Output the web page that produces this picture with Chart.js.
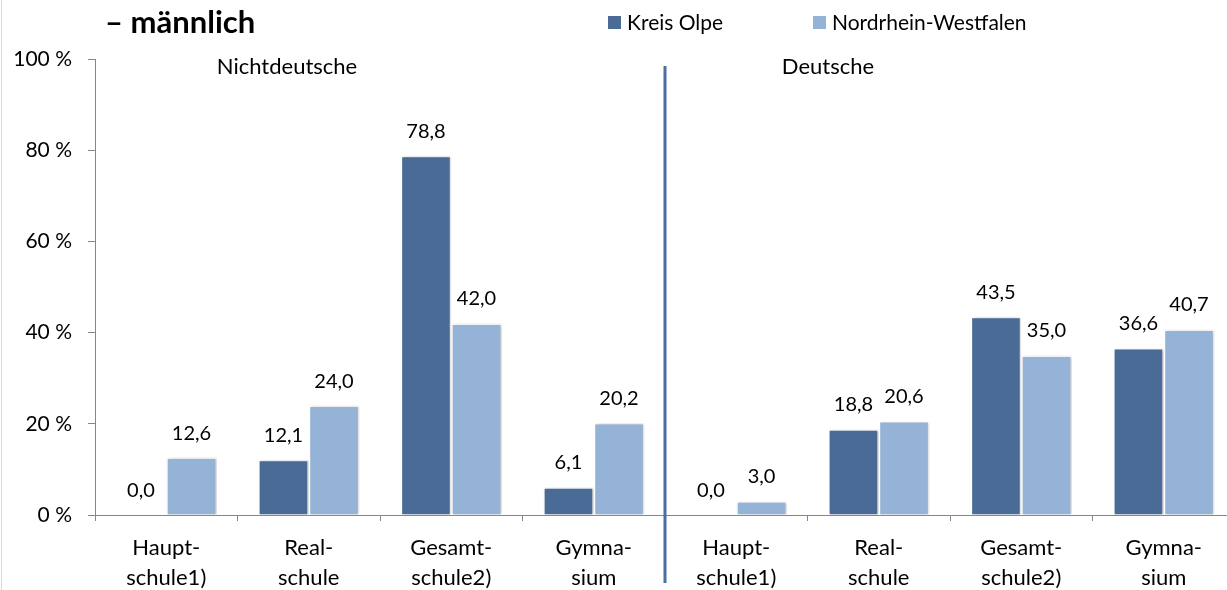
<!DOCTYPE html>
<html>
<head>
<meta charset="utf-8">
<script src="https://cdn.jsdelivr.net/npm/chart.js@4/dist/chart.umd.min.js"></script>
<style>
  html, body { margin: 0; padding: 0; background: #fff; overflow: hidden; }
  #wrap { width: 1240px; height: 590px; }
</style>
</head>
<body>
<div id="wrap"><canvas id="chart" width="1240" height="590"></canvas></div>
<script>
const FONT = "Lato, 'Open Sans', sans-serif";

const categories = [
  ["Haupt-", "schule1)"], ["Real-", "schule"], ["Gesamt-", "schule2)"], ["Gymna-", "sium"],
  ["Haupt-", "schule1)"], ["Real-", "schule"], ["Gesamt-", "schule2)"], ["Gymna-", "sium"]
];
const kreisOlpe = [0.0, 12.1, 78.8, 6.1, 0.0, 18.8, 43.5, 36.6];
const nrw = [12.6, 24.0, 42.0, 20.2, 3.0, 20.6, 35.0, 40.7];
const yTicks = [0, 20, 40, 60, 80, 100];

const DARK = "#4a6b96";
const LIGHT = "#95b3d7";

function fmt(v) {
  return v.toFixed(1).replace(".", ",");
}

// bars get a faint shadow like the original
const shadowPlugin = {
  id: "shadow",
  beforeDatasetsDraw(chart) {
    const ctx = chart.ctx;
    ctx.save();
    ctx.shadowColor = "rgba(0,0,0,0.22)";
    ctx.shadowBlur = 3;
    ctx.shadowOffsetX = 1.5;
    ctx.shadowOffsetY = 0;
  },
  afterDatasetsDraw(chart) {
    chart.ctx.restore();
  }
};

const extrasPlugin = {
  id: "extras",
  afterDraw(chart) {
    const ctx = chart.ctx;
    const area = chart.chartArea;
    const x = chart.scales.x;

    // left frame line
    ctx.save();
    ctx.strokeStyle = "#d9d9d9";
    ctx.lineWidth = 1;
    ctx.beginPath();
    ctx.moveTo(1.5, 0);
    ctx.lineTo(1.5, 590);
    ctx.stroke();

    // value labels
    ctx.fillStyle = "#000";
    ctx.font = "20px " + FONT;
    ctx.textAlign = "center";
    ctx.textBaseline = "alphabetic";
    chart.data.datasets.forEach((ds, i) => {
      const meta = chart.getDatasetMeta(i);
      meta.data.forEach((bar, j) => {
        ctx.fillText(fmt(ds.data[j]), bar.x, bar.y - 18);
      });
    });

    // separator between the two groups
    const sx = (x.getPixelForValue(3) + x.getPixelForValue(4)) / 2;
    ctx.strokeStyle = "#4a6fa0";
    ctx.lineWidth = 3;
    ctx.beginPath();
    ctx.moveTo(sx, area.top + 7);
    ctx.lineTo(sx, area.bottom + 68);
    ctx.stroke();

    // group captions
    ctx.font = "22px " + FONT;
    ctx.textBaseline = "middle";
    ctx.fillText("Nichtdeutsche", 287, 67);
    ctx.fillText("Deutsche", 828, 67);

    // title
    ctx.font = "bold 31px " + FONT;
    ctx.textAlign = "left";
    ctx.fillText("– männlich", 105, 23);

    // legend
    ctx.font = "21px " + FONT;
    const legendX = [608, 813];
    chart.data.datasets.forEach((ds, i) => {
      ctx.fillStyle = ds.backgroundColor;
      ctx.fillRect(legendX[i], 16, 13, 13);
      ctx.fillStyle = "#000";
      ctx.fillText(ds.label, legendX[i] + 19, 23);
    });
    ctx.restore();
  }
};

new Chart(document.getElementById("chart"), {
  type: "bar",
  data: {
    labels: categories,
    datasets: [
      {
        label: "Kreis Olpe",
        data: kreisOlpe,
        backgroundColor: DARK,
        borderColor: "#ffffff",
        borderWidth: 1.5,
        categoryPercentage: 0.71,
        barPercentage: 1.0
      },
      {
        label: "Nordrhein-Westfalen",
        data: nrw,
        backgroundColor: LIGHT,
        borderColor: "#ffffff",
        borderWidth: 1.5,
        categoryPercentage: 0.71,
        barPercentage: 1.0
      }
    ]
  },
  options: {
    responsive: false,
    animation: false,
    devicePixelRatio: 1,
    layout: { padding: { top: 59, right: 5, left: 0, bottom: 0 } },
    plugins: {
      legend: { display: false },
      tooltip: { enabled: false },
      title: { display: false }
    },
    scales: {
      x: {
        grid: {
          offset: true,
          drawOnChartArea: false,
          tickLength: 6,
          tickColor: "#868686"
        },
        border: { color: "#868686", width: 1 },
        ticks: {
          color: "#000",
          font: { family: FONT, size: 22, lineHeight: 1.36 },
          padding: 12,
          maxRotation: 0,
          autoSkip: false
        },
        afterFit(scale) { scale.height = 75; }
      },
      y: {
        min: 0,
        max: 100,
        afterBuildTicks(scale) {
          scale.ticks = yTicks.map(v => ({ value: v }));
        },
        grid: {
          drawOnChartArea: false,
          tickLength: 7,
          tickColor: "#868686"
        },
        border: { color: "#868686", width: 1 },
        ticks: {
          color: "#000",
          font: { family: FONT, size: 21 },
          padding: 16,
          callback: v => v + " %"
        },
        afterFit(scale) { scale.width = 95; }
      }
    }
  },
  plugins: [shadowPlugin, extrasPlugin]
});
</script>
</body>
</html>
